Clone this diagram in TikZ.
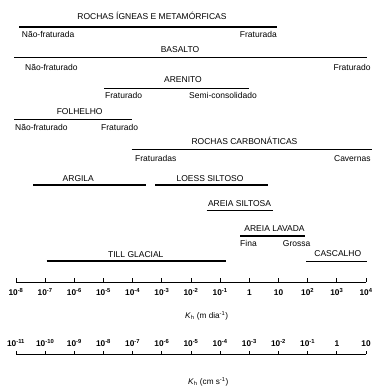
\documentclass[tikz,border=0pt]{standalone}
\usepackage{fontspec}
\setmainfont{Liberation Sans}
\begin{document}
\begin{tikzpicture}[x=1pt,y=-1pt,
  lbl/.style={font=\fontsize{8.5}{10}\selectfont, inner sep=0pt, anchor=base},
  lw/.style={lbl, anchor=base west},
  le/.style={lbl, anchor=base east},
  bar/.style={line width=1.4pt},
  ax/.style={line width=0.9pt},
  num/.style={font=\fontsize{8.3}{9}\selectfont\bfseries, inner sep=0pt, anchor=base},
  kl/.style={font=\fontsize{8.2}{9}\selectfont, inner sep=0pt, anchor=base west}]
\useasboundingbox (0,0) rectangle (373,387);
% Rochas igneas
\node[lbl] (rig) at (152,19.7) {ROCHAS ÍGNEAS E METAMÓRFICAS};
\coordinate (rigA) at (19,27); \coordinate (rigB) at (277,27);
\draw[bar] (rigA) -- (rigB);
\node[lw] (rigL) at (21.7,38) {Não-fraturada};
\node[le] (rigR) at (277,38) {Fraturada};
% Basalto
\node[lbl] (bas) at (180,53) {BASALTO};
\coordinate (basA) at (14,57.7); \coordinate (basB) at (367,57.7);
\draw[bar] (basA) -- (basB);
\node[lw] (basL) at (25,70.7) {Não-fraturado};
\node[le] (basR) at (370.7,70.7) {Fraturado};
% Arenito
\node[lbl] (are) at (183,82.7) {ARENITO};
\coordinate (areA) at (104,88.3); \coordinate (areB) at (249,88.3);
\draw[bar] (areA) -- (areB);
\node[lw] (areL) at (105,99) {Fraturado};
\node[lw] (areR) at (189,99) {Semi-consolidado};
% Folhelho
\node[lbl] (fol) at (79.7,114.7) {FOLHELHO};
\coordinate (folA) at (14,119.3); \coordinate (folB) at (131.7,119.3);
\draw[bar] (folA) -- (folB);
\node[lw] (folL) at (15,130.3) {Não-fraturado};
\node[lw] (folR) at (101,130.3) {Fraturado};
% Rochas carbonaticas
\node[lbl] (car) at (244.5,144.7) {ROCHAS CARBONÁTICAS};
\coordinate (carA) at (131.7,149.3); \coordinate (carB) at (371.7,149.3);
\draw[bar] (carA) -- (carB);
\node[lw] (carL) at (135,161.3) {Fraturadas};
\node[le] (carR) at (370.7,161.3) {Cavernas};
% Argila
\node[lbl] (arg) at (78.3,181.3) {ARGILA};
\coordinate (argA) at (33.3,185); \coordinate (argB) at (145.7,185);
\draw[bar] (argA) -- (argB);
% Loess
\node[lbl] (loe) at (210,181.3) {LOESS SILTOSO};
\coordinate (loeA) at (155.3,185); \coordinate (loeB) at (267.7,185);
\draw[bar] (loeA) -- (loeB);
% Areia siltosa
\node[lbl] (ars) at (239.5,206.3) {AREIA SILTOSA};
\coordinate (arsA) at (206.7,210.7); \coordinate (arsB) at (272.7,210.7);
\draw[bar] (arsA) -- (arsB);
% Areia lavada
\node[lbl] (arl) at (274.5,231.3) {AREIA LAVADA};
\coordinate (arlA) at (240,236); \coordinate (arlB) at (305,236);
\draw[bar] (arlA) -- (arlB);
\node[lw] (arlL) at (240,246.3) {Fina};
\node[lw] (arlR) at (282.7,246.3) {Grossa};
% Cascalho
\node[lbl] (cas) at (337.8,256.3) {CASCALHO};
\coordinate (casA) at (306,261.7); \coordinate (casB) at (366.7,261.7);
\draw[bar] (casA) -- (casB);
% Till glacial
\node[lbl] (til) at (135.8,257.3) {TILL GLACIAL};
\coordinate (tilA) at (46.7,261); \coordinate (tilB) at (226,261);
\draw[bar] (tilA) -- (tilB);
% Axis 1 (m/dia)
\coordinate (a1A) at (16,282.3); \coordinate (a1B) at (366,282.3);
\draw[ax] (a1A) -- (a1B);
\foreach \i/\t in {0/10\textsuperscript{-8},1/10\textsuperscript{-7},2/10\textsuperscript{-6},3/10\textsuperscript{-5},4/10\textsuperscript{-4},5/10\textsuperscript{-3},6/10\textsuperscript{-2},7/10\textsuperscript{-1},8/1,9/10,10/10\textsuperscript{2},11/10\textsuperscript{3},12/10\textsuperscript{4}}{
  \draw[ax] (16+\i*29.1667,282.3) -- (16+\i*29.1667,277.6);
  \node[num] (m\i) at (16+\i*29.1667,295) {\t};
}
\node[kl] (k1) at (185,318) {\textit{K}\textsubscript{h} (m dia\textsuperscript{-1})};
% Axis 2 (cm/s)
\coordinate (a2A) at (16,354.3); \coordinate (a2B) at (366,354.3);
\draw[ax] (a2A) -- (a2B);
\foreach \i/\t in {0/10\textsuperscript{-11},1/10\textsuperscript{-10},2/10\textsuperscript{-9},3/10\textsuperscript{-8},4/10\textsuperscript{-7},5/10\textsuperscript{-6},6/10\textsuperscript{-5},7/10\textsuperscript{-4},8/10\textsuperscript{-3},9/10\textsuperscript{-2},10/10\textsuperscript{-1},11/1,12/10}{
  \draw[ax] (16+\i*29.1667,354.3) -- (16+\i*29.1667,350.5);
  \node[num] (c\i) at (16+\i*29.1667,346.7) {\t};
}
\node[kl] (k2) at (188,384) {\textit{K}\textsubscript{h} (cm s\textsuperscript{-1})};
\end{tikzpicture}
\end{document}
